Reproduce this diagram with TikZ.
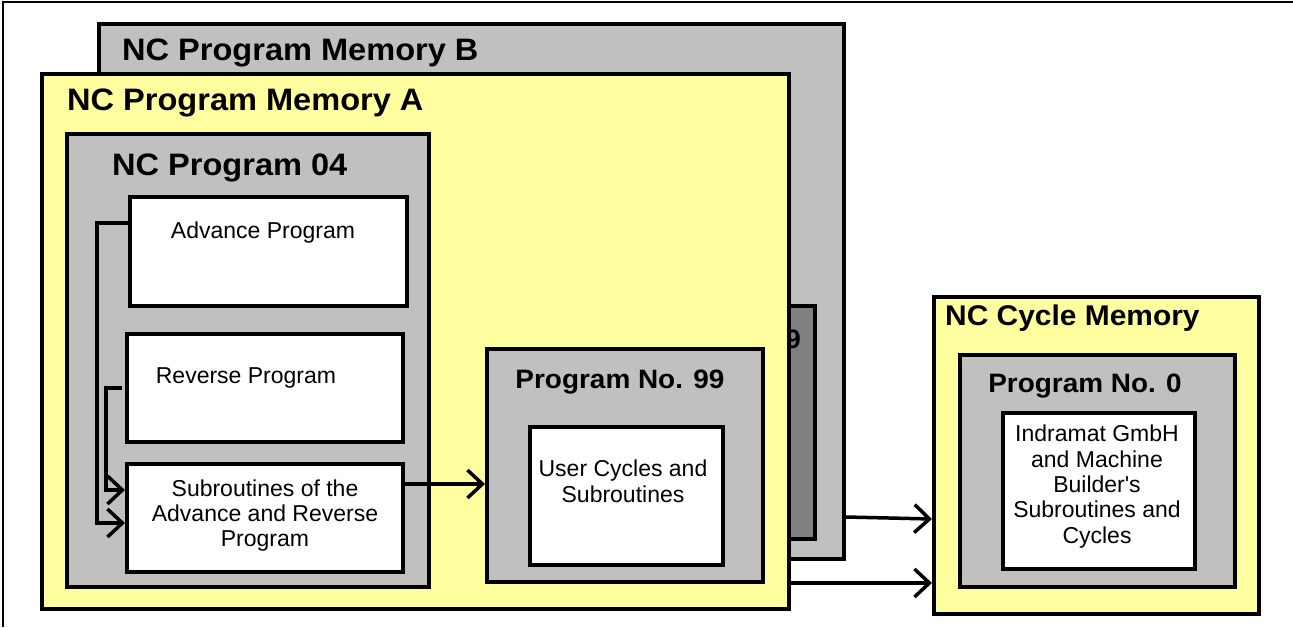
\documentclass[tikz,border=0pt]{standalone}
\usepackage{fontspec}
\setmainfont{Liberation Sans}
\newfontfamily\plainfont{Liberation Sans}
\newfontfamily\titlefont[FakeStretch=1.05]{Liberation Sans}
\usetikzlibrary{arrows.meta}
\definecolor{yel}{HTML}{FFFF9F}
\definecolor{gry}{HTML}{C0C0C0}
\definecolor{dgry}{HTML}{808080}
\tikzset{
  box/.style={draw=black, line width=4pt, inner sep=0pt, anchor=north west, shape=rectangle},
  ybox/.style={box, fill=yel},
  gbox/.style={box, fill=gry},
  dbox/.style={box, fill=dgry},
  wbox/.style={box, fill=white},
  bigt/.style={font=\titlefont\fontsize{31}{37}\bfseries\selectfont, inner sep=0pt},
  midt/.style={font=\titlefont\fontsize{28.5}{34}\bfseries\selectfont, inner sep=0pt},
  smt/.style={font=\titlefont\fontsize{26.6}{32}\bfseries\selectfont, inner sep=0pt},
  txt/.style={font=\plainfont\fontsize{23}{25}\selectfont, inner sep=0pt, align=center},
  conn/.style={line width=3.5pt},
  arr/.style={conn, -{Straight Barb[length=15pt,width=28pt]}},
  frame/.style={line width=2.5pt}
}
\begin{document}
\begin{tikzpicture}[x=1pt,y=-1pt]
\useasboundingbox (0,0) rectangle (1293,627);
\draw[frame] (3,627) -- (3,2) -- (1293,2);

% Memory B
\node[gbox, minimum width=745pt, minimum height=535pt] (memB) at (97,22) {};
\node[dbox, minimum width=273pt, minimum height=233pt] (dark99) at (540,304) {};
\node[bigt, anchor=base west] (tB) at (122,60) {NC Program Memory B};
\node[smt, anchor=base east] (t99d) at (801,348) {Program No. 99};

% Memory A
\node[ybox, minimum width=747pt, minimum height=535pt] (memA) at (40,72) {};
\node[bigt, anchor=base west] (tA) at (67,110) {NC Program Memory A};

% NC Program 04
\node[gbox, minimum width=362pt, minimum height=453pt] (p04) at (65,132) {};
\node[bigt, anchor=base west] (t04) at (112,175) {NC Program 04};

\node[wbox, minimum width=277pt, minimum height=109pt] (adv) at (128,195) {};
\node[txt, anchor=base] (tadv) at (263,238) {Advance Program};
\node[wbox, minimum width=276pt, minimum height=108pt] (rev) at (125,332) {};
\node[txt, anchor=base] (trev) at (246,383) {Reverse Program};
\node[wbox, minimum width=276pt, minimum height=108pt] (sub) at (125,462) {};
\node[txt, anchor=north] (tsub) at (265,480) {Subroutines of the\\Advance and Reverse\\Program};

% Program No. 99
\node[gbox, minimum width=276pt, minimum height=233pt] (p99) at (485,347) {};
\node[smt, anchor=base] (t99) at (620,388) {Program No. 99};
\node[wbox, minimum width=193pt, minimum height=138pt] (user) at (528,425) {};
\node[txt, anchor=north, font=\plainfont\fontsize{23}{26}\selectfont] (tuser) at (623,460) {User Cycles and\\Subroutines};

% NC Cycle Memory
\node[ybox, minimum width=325pt, minimum height=317pt] (cyc) at (932,295) {};
\node[midt, anchor=base west] (tcyc) at (945,325) {NC Cycle Memory};
\node[gbox, minimum width=275pt, minimum height=232pt] (p0) at (958,353) {};
\node[smt, anchor=base] (t0) at (1085,392) {Program No. 0};
\node[wbox, minimum width=192pt, minimum height=156pt] (ind) at (1001,411) {};
\node[txt, anchor=north, font=\plainfont\fontsize{23}{25.3}\selectfont] (tind) at (1097,425) {Indramat GmbH\\and Machine\\Builder's\\Subroutines and\\Cycles};

% connectors
\coordinate (k1) at (97,223);
\coordinate (k2) at (97,523);
\draw[arr] (adv.west |- k1) -- (k1) -- (k2) -- (sub.west |- k2);
\coordinate (k4) at (106,388);
\coordinate (k5) at (106,490);
\draw[arr, shorten <=3pt] (rev.west |- k4) -- (k4) -- (k5) -- (sub.west |- k5);
\coordinate (k6) at (0,484);
\draw[arr] (sub.east |- k6) -- (p99.west |- k6);
\coordinate (k7) at (0,517);
\coordinate (k8) at (0,519);
\draw[arr] (memB.east |- k7) -- (cyc.west |- k8);
\coordinate (k9) at (0,583);
\draw[arr] (memA.east |- k9) -- (cyc.west |- k9);
\end{tikzpicture}
\end{document}
